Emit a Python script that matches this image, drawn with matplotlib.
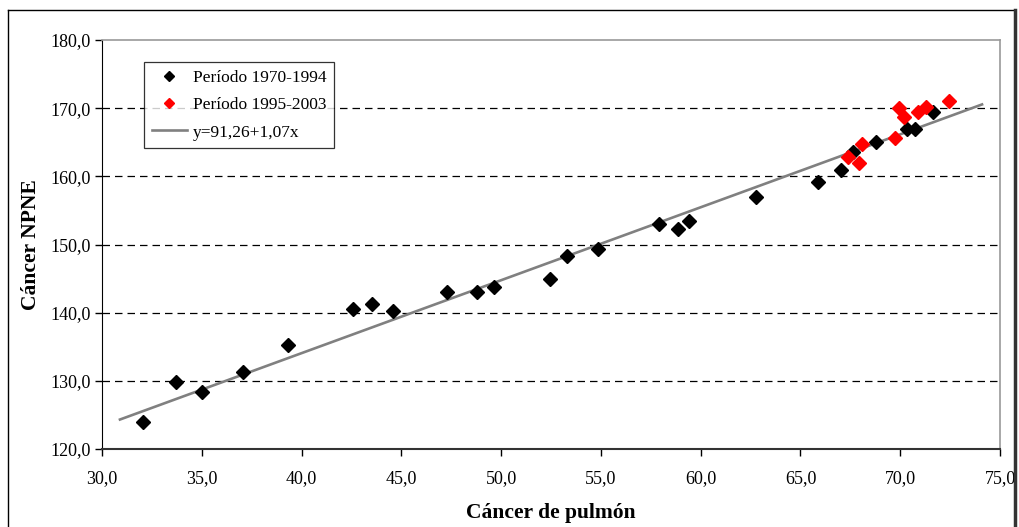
import numpy as np
import matplotlib
matplotlib.use("Agg")
import matplotlib.pyplot as plt
from matplotlib.lines import Line2D

plt.rcParams["font.family"] = ["Liberation Serif", "DejaVu Serif"]

# Periodo 1970-1994
x_black = [32.05, 33.72, 35.02, 37.06, 39.32, 42.58, 43.53, 44.58, 47.28, 48.79,
           49.64, 52.44, 53.29, 54.84, 57.90, 58.86, 59.41, 62.77, 65.89, 67.02,
           67.61, 68.81, 70.35, 70.75, 71.65]
y_black = [124.0, 129.8, 128.4, 131.3, 135.2, 140.6, 141.2, 140.2, 143.1, 143.1,
           143.8, 145.0, 148.3, 149.4, 153.0, 152.3, 153.5, 156.9, 159.2, 161.0,
           163.6, 165.0, 167.0, 167.0, 169.4]

# Periodo 1995-2003
x_red = [67.39, 67.94, 68.09, 69.73, 69.93, 70.17, 70.87, 71.28, 72.45]
y_red = [162.9, 161.9, 164.8, 165.6, 170.0, 168.7, 169.4, 170.2, 171.05]

# regression line y = 91.26 + 1.07x
intercept, slope = 91.26, 1.07
x_fit = np.array([30.9, 74.1])

xticks = np.arange(30, 75.1, 5)
yticks = np.arange(120, 180.1, 10)

fig = plt.figure(figsize=(10.19, 5.27), dpi=100)
ax = fig.add_axes([102 / 1019, 1 - 449 / 527, 898 / 1019, 409 / 527])

for yv in yticks[1:-1]:
    ax.axhline(yv, color="black", lw=0.9, ls=(0, (6, 4)), zorder=1)

ax.plot(x_fit, intercept + slope * x_fit, color="#808080", lw=1.9, zorder=2)
ax.plot(x_black, y_black, ls="none", marker="D", ms=6.8, color="black", zorder=3)
ax.plot(x_red, y_red, ls="none", marker="D", ms=6.8, color="#ff0000", zorder=3)

ax.set_xlim(30, 75)
ax.set_ylim(120, 180)
ax.set_xticks(xticks)
ax.set_yticks(yticks)
ax.set_xticklabels([f"{v:.1f}".replace(".", ",") for v in xticks])
ax.set_yticklabels([f"{v:.1f}".replace(".", ",") for v in yticks])
ax.tick_params(direction="out", length=5, width=1, labelsize=13, pad=3)
ax.tick_params(axis="x", pad=10.5)

for s in ["top", "right"]:
    ax.spines[s].set_color("#999999")
    ax.spines[s].set_linewidth(1.2)
ax.spines["left"].set_color("black")
ax.spines["bottom"].set_color("#333333")
ax.spines["bottom"].set_linewidth(1.5)

ax.set_xlabel("Cáncer de pulmón", fontsize=15.5, fontweight="bold", labelpad=11)
ax.set_ylabel("Cáncer NPNE", fontsize=15.5, fontweight="bold", labelpad=7)

handles = [
    Line2D([], [], ls="none", marker="D", ms=5.5, color="black"),
    Line2D([], [], ls="none", marker="D", ms=5.5, color="#ff0000"),
    Line2D([], [], color="#808080", lw=1.9),
]
labels = ["Período 1970-1994", "Período 1995-2003", "y=91,26+1,07x"]
leg = ax.legend(handles, labels, loc="upper left", bbox_to_anchor=(0.047, 0.947),
                fontsize=12.5, frameon=True, fancybox=False, edgecolor="black",
                borderaxespad=0, handlelength=2.0, handletextpad=0.35,
                labelspacing=0.65, borderpad=0.45)
leg.get_frame().set_linewidth(0.9)

# outer chart frame
fig.add_artist(Line2D([8 / 1019, 8 / 1019], [0, 1 - 10 / 527],
                      transform=fig.transFigure, color="black", lw=1))
fig.add_artist(Line2D([8 / 1019, 1015 / 1019], [1 - 10 / 527, 1 - 10 / 527],
                      transform=fig.transFigure, color="black", lw=1))
fig.add_artist(Line2D([1015 / 1019, 1015 / 1019], [0, 1 - 10 / 527],
                      transform=fig.transFigure, color="#333333", lw=2.5))

fig.savefig("out.png", dpi=100)
